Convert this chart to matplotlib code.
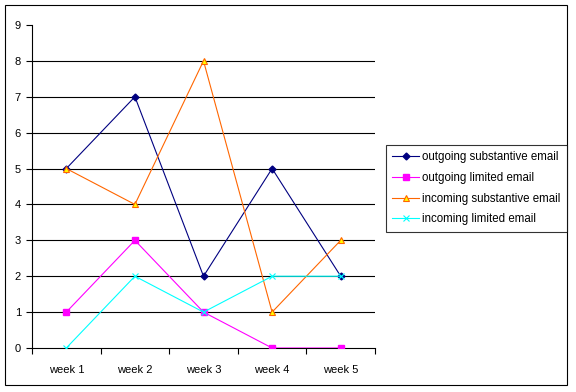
import matplotlib.pyplot as plt
from matplotlib.patches import Rectangle

plt.rcParams['font.family'] = ['Liberation Sans', 'DejaVu Sans']

weeks = ['week 1', 'week 2', 'week 3', 'week 4', 'week 5']
out_subst = [5, 7, 2, 5, 2]
out_limited = [1, 3, 1, 0, 0]
in_subst = [5, 4, 8, 1, 3]
in_limited = [0, 2, 1, 2, 2]

fig = plt.figure(figsize=(5.76, 3.92), dpi=100)
ax = fig.add_axes([32/576, 1-348/392, 343/576, 323/392])

x = list(range(len(weeks)))
lw = 0.8
ax.plot(x, out_subst, color='#000080', lw=lw, marker='D', ms=3.5, mfc='#000080', mec='#000080',
        label='outgoing substantive email', zorder=3)
ax.plot(x, out_limited, color='#ff00ff', lw=lw, marker='s', ms=4.5, mfc='#ff00ff', mec='#ff00ff',
        label='outgoing limited email', zorder=3)
ax.plot(x, in_subst, color='#ff6600', lw=lw, marker='^', ms=5, mfc='#ffff00', mec='#ff6600', mew=0.8,
        label='incoming substantive email', zorder=3)
ax.plot(x, in_limited, color='#00ffff', lw=lw, marker='x', ms=4, mec='#00ffff', mew=0.8,
        label='incoming limited email', zorder=3)

ax.set_xlim(-0.5, len(weeks) - 0.5)
ax.set_ylim(0, 9)
ax.set_yticks(range(10))
ax.set_xticks(x)
ax.set_xticklabels(weeks)
ax.set_xticks([i - 0.5 for i in range(len(weeks) + 1)], minor=True)
ax.tick_params(axis='x', which='major', length=0, labelsize=8, pad=12)
ax.tick_params(axis='x', which='minor', length=4, width=0.8, direction='out')
ax.tick_params(axis='y', length=4, width=0.8, direction='out', labelsize=8, pad=4)

for v in range(1, 9):
    ax.axhline(v, color='black', lw=0.8, zorder=1)

ax.spines['top'].set_visible(False)
ax.spines['right'].set_visible(False)
ax.spines['left'].set_linewidth(0.8)
ax.spines['bottom'].set_linewidth(0.8)

leg = fig.legend(loc='upper left', bbox_to_anchor=(386/576, 1-145/392), fontsize=8.3,
                 frameon=True, fancybox=False, edgecolor='black', borderpad=0.55,
                 handlelength=2.3, handletextpad=0.3, labelspacing=0.75, borderaxespad=0)
leg.get_frame().set_linewidth(0.8)

fig.patches.append(Rectangle((5/576, 1-385/392), 562/576, 380/392, transform=fig.transFigure,
                             fill=False, edgecolor='black', lw=0.8))

fig.savefig('out.png', dpi=100)
